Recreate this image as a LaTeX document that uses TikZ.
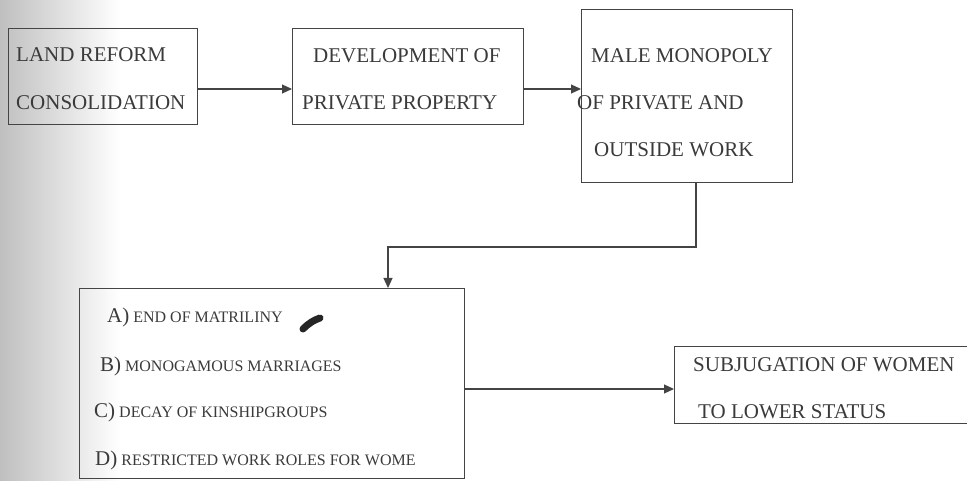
\documentclass[tikz,border=0pt]{standalone}
\usepackage{fontspec}
\setmainfont{Liberation Serif}
\usetikzlibrary{arrows.meta}
\definecolor{ink}{HTML}{3A3A3A}
\definecolor{linec}{HTML}{444444}
\tikzset{
  boxs/.style={draw=linec, line width=1.3pt, inner sep=0pt, anchor=north west},
  big/.style={text=ink, font=\fontsize{21}{21}\selectfont, anchor=base west, inner sep=0pt},
  lst/.style={text=ink, font=\fontsize{16}{16}\selectfont, anchor=base west, inner sep=0pt},
  conn/.style={draw=linec, line width=1.2pt, -{Triangle[length=10pt,width=9pt]}},
}
\newcommand{\itemlbl}[2]{{\fontsize{21}{21}\selectfont #1}#2}
\begin{document}
\begin{tikzpicture}[x=1pt,y=-1pt]
\useasboundingbox (0,0) rectangle (967,481);
\shade[left color=black!25, right color=white] (0,0) rectangle (120,481);
% boxes
\node[boxs, minimum width=189pt, minimum height=96pt] (b1) at (8,28) {};
\node[boxs, minimum width=231pt, minimum height=96pt] (b2) at (292,28) {};
\node[boxs, minimum width=211pt, minimum height=173pt] (b3) at (581,9) {};
\node[boxs, minimum width=385pt, minimum height=190pt] (b4) at (79,288) {};
\node[boxs, minimum width=300pt, minimum height=77pt] (b5) at (674,346) {};
% texts
\node[big] (t1a) at (16,62) {LAND REFORM};
\node[big] (t1b) at (16,110) {CONSOLIDATION};
\node[big] (t2a) at (313,63) {DEVELOPMENT OF};
\node[big] (t2b) at (302,110) {PRIVATE PROPERTY};
\node[big] (t3a) at (591,63) {MALE MONOPOLY};
\node[big] (t3b) at (577,110) {OF PRIVATE AND};
\node[big] (t3c) at (594,157) {OUTSIDE WORK};
\node[big] (t5a) at (693,371) {SUBJUGATION OF WOMEN};
\node[big] (t5b) at (698,418) {TO LOWER STATUS};
\node[lst] (t4a) at (107,323) {\itemlbl{A)}{ END OF MATRILINY}};
\node[lst] (t4b) at (100,371) {\itemlbl{B)}{ MONOGAMOUS MARRIAGES}};
\node[lst] (t4c) at (94,417) {\itemlbl{C)}{ DECAY OF KINSHIPGROUPS}};
\node[lst] (t4d) at (95,465) {\itemlbl{D)}{ RESTRICTED WORK ROLES FOR WOME}};
% ink mark
\draw[black!85, line width=7pt, line cap=round] (303,329) .. controls (309,323) and (314,320) .. (320,318);
% connectors
\coordinate (c1) at (696,247);
\coordinate (c2) at (388,247);
\draw[conn] (b1.east |- 0,89) -- (b2.west |- 0,89);
\draw[conn] (b2.east |- 0,89) -- (b3.west |- 0,89);
\draw[conn] (b3.south -| c1) -- (c1) -- (c2) -- (c2 |- b4.north);
\draw[conn] (b4.east |- 0,389) -- (b5.west |- 0,389);
\end{tikzpicture}
\end{document}
